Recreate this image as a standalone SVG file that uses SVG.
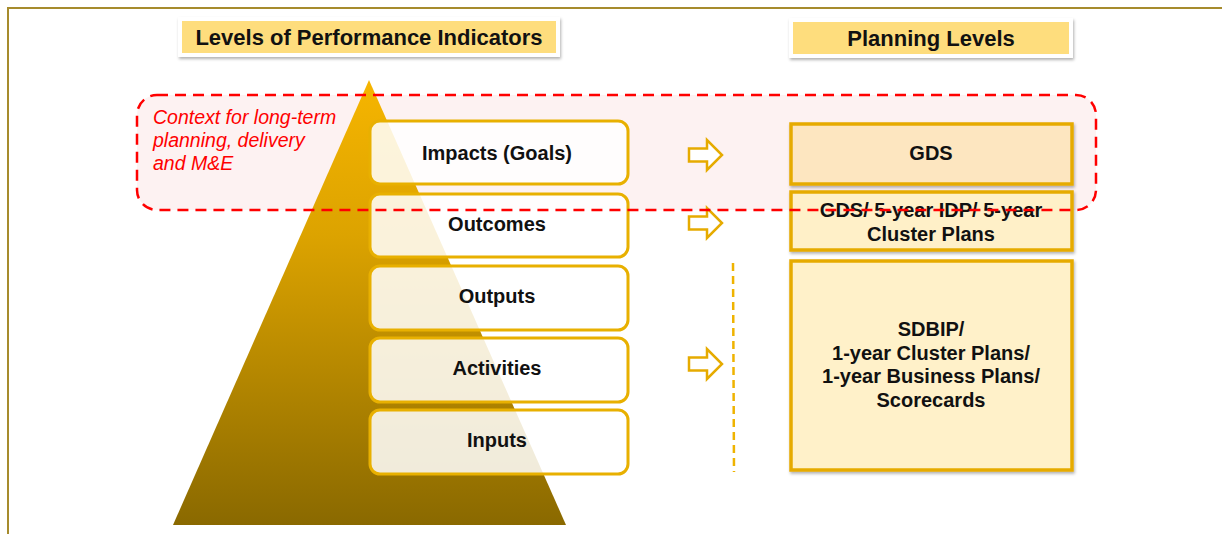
<svg xmlns="http://www.w3.org/2000/svg" width="1222" height="534" viewBox="0 0 1222 534">
<defs>
<linearGradient id="pyr" x1="0" y1="0" x2="0" y2="1">
<stop offset="0" stop-color="#f6b500"/>
<stop offset="0.35" stop-color="#dca300"/>
<stop offset="1" stop-color="#8a6900"/>
</linearGradient>
<filter id="sh" x="-10%" y="-20%" width="120%" height="150%">
<feDropShadow dx="1" dy="2" stdDeviation="1.5" flood-color="#000" flood-opacity="0.3"/>
</filter>
<path id="arr" d="M0,-6.5 H18 V-15 L33,0 L18,15 V6.5 H0 Z"/>
<style>
.frame{stroke:#a68b2d;stroke-width:2;fill:none}
.title{fill:#fedd7d}
.titleBg{fill:#ffffff}
.tt{font-family:"Liberation Sans",Arial,sans-serif;font-weight:bold;font-size:22px;fill:#111;text-anchor:middle}
.lvl{fill:#ffffff;fill-opacity:0.86;stroke:#e8b000;stroke-width:3}
.lt{font-family:"Liberation Sans",Arial,sans-serif;font-weight:bold;font-size:20px;fill:#111;text-anchor:middle}
.pl{stroke:#e6ab00;stroke-width:3.5}
.ctx{font-family:"Liberation Sans",Arial,sans-serif;font-style:italic;font-size:19.5px;fill:#ff0000}
.arrow{fill:#ffffff;stroke:#e6ab00;stroke-width:2.5;stroke-linejoin:miter}
</style>
</defs>

<rect x="0" y="0" width="1222" height="534" fill="#ffffff"/>
<path class="frame" d="M8,534 V8 H1222"/>

<!-- context region fill (behind) -->
<rect x="137" y="95" width="959" height="115" rx="20" fill="#f8d5d5" fill-opacity="0.3"/>

<!-- pyramid -->
<polygon id="pyramid" points="369,80 566,525 173,525" fill="url(#pyr)"/>

<!-- titles -->
<g id="title-left">
<rect class="titleBg" x="178" y="17" width="382" height="40" filter="url(#sh)"/>
<rect class="title" x="182" y="21" width="374" height="32"/>
<text class="tt" x="369" y="45">Levels of Performance Indicators</text>
</g>
<g id="title-right">
<rect class="titleBg" x="789" y="18" width="284" height="40" filter="url(#sh)"/>
<rect class="title" x="793" y="22" width="276" height="32"/>
<text class="tt" x="931" y="46">Planning Levels</text>
</g>

<!-- levels -->
<g id="impacts">
<rect class="lvl" x="370" y="121" width="258" height="63" rx="10"/>
<text class="lt" x="497" y="160">Impacts (Goals)</text>
</g>
<g id="outcomes">
<rect class="lvl" x="370" y="194" width="258" height="63" rx="10"/>
<text class="lt" x="497" y="231">Outcomes</text>
</g>
<g id="outputs">
<rect class="lvl" x="370" y="266" width="258" height="64" rx="10"/>
<text class="lt" x="497" y="303">Outputs</text>
</g>
<g id="activities">
<rect class="lvl" x="370" y="338" width="258" height="64" rx="10"/>
<text class="lt" x="497" y="375">Activities</text>
</g>
<g id="inputs">
<rect class="lvl" x="370" y="410" width="258" height="64" rx="10"/>
<text class="lt" x="497" y="447">Inputs</text>
</g>

<!-- planning levels -->
<g id="gds">
<rect class="pl" x="791" y="124" width="281" height="60" fill="#fde6c0" filter="url(#sh)"/>
<text class="lt" x="931" y="160">GDS</text>
</g>
<g id="gds-idp">
<rect class="pl" x="791" y="192" width="281" height="58" fill="#fff0c8" filter="url(#sh)"/>
<text class="lt" x="931" y="217">GDS/ 5-year IDP/ 5-year</text>
<text class="lt" x="931" y="241">Cluster Plans</text>
</g>
<g id="sdbip">
<rect class="pl" x="791" y="261" width="281" height="209" fill="#fff1c9" filter="url(#sh)"/>
<text class="lt" x="931" y="336">SDBIP/</text>
<text class="lt" x="931" y="360">1-year Cluster Plans/</text>
<text class="lt" x="931" y="383">1-year Business Plans/</text>
<text class="lt" x="931" y="407">Scorecards</text>
</g>

<!-- connectors -->
<g id="connectors">
<use href="#arr" class="arrow" transform="translate(689,155)"/>
<use href="#arr" class="arrow" transform="translate(689,223)"/>
<use href="#arr" class="arrow" transform="translate(689,364)"/>
<line x1="733" y1="263" x2="734" y2="472" stroke="#efb300" stroke-width="2.5" stroke-dasharray="8,5"/>
</g>

<!-- context region -->
<g id="context">
<rect x="137" y="95" width="959" height="115" rx="20" fill="none" stroke="#ff0000" stroke-width="2.5" stroke-dasharray="11,7"/>
<text class="ctx" x="153" y="124">Context for long-term</text>
<text class="ctx" x="153" y="147">planning, delivery</text>
<text class="ctx" x="153" y="170">and M&amp;E</text>
</g>
</svg>
